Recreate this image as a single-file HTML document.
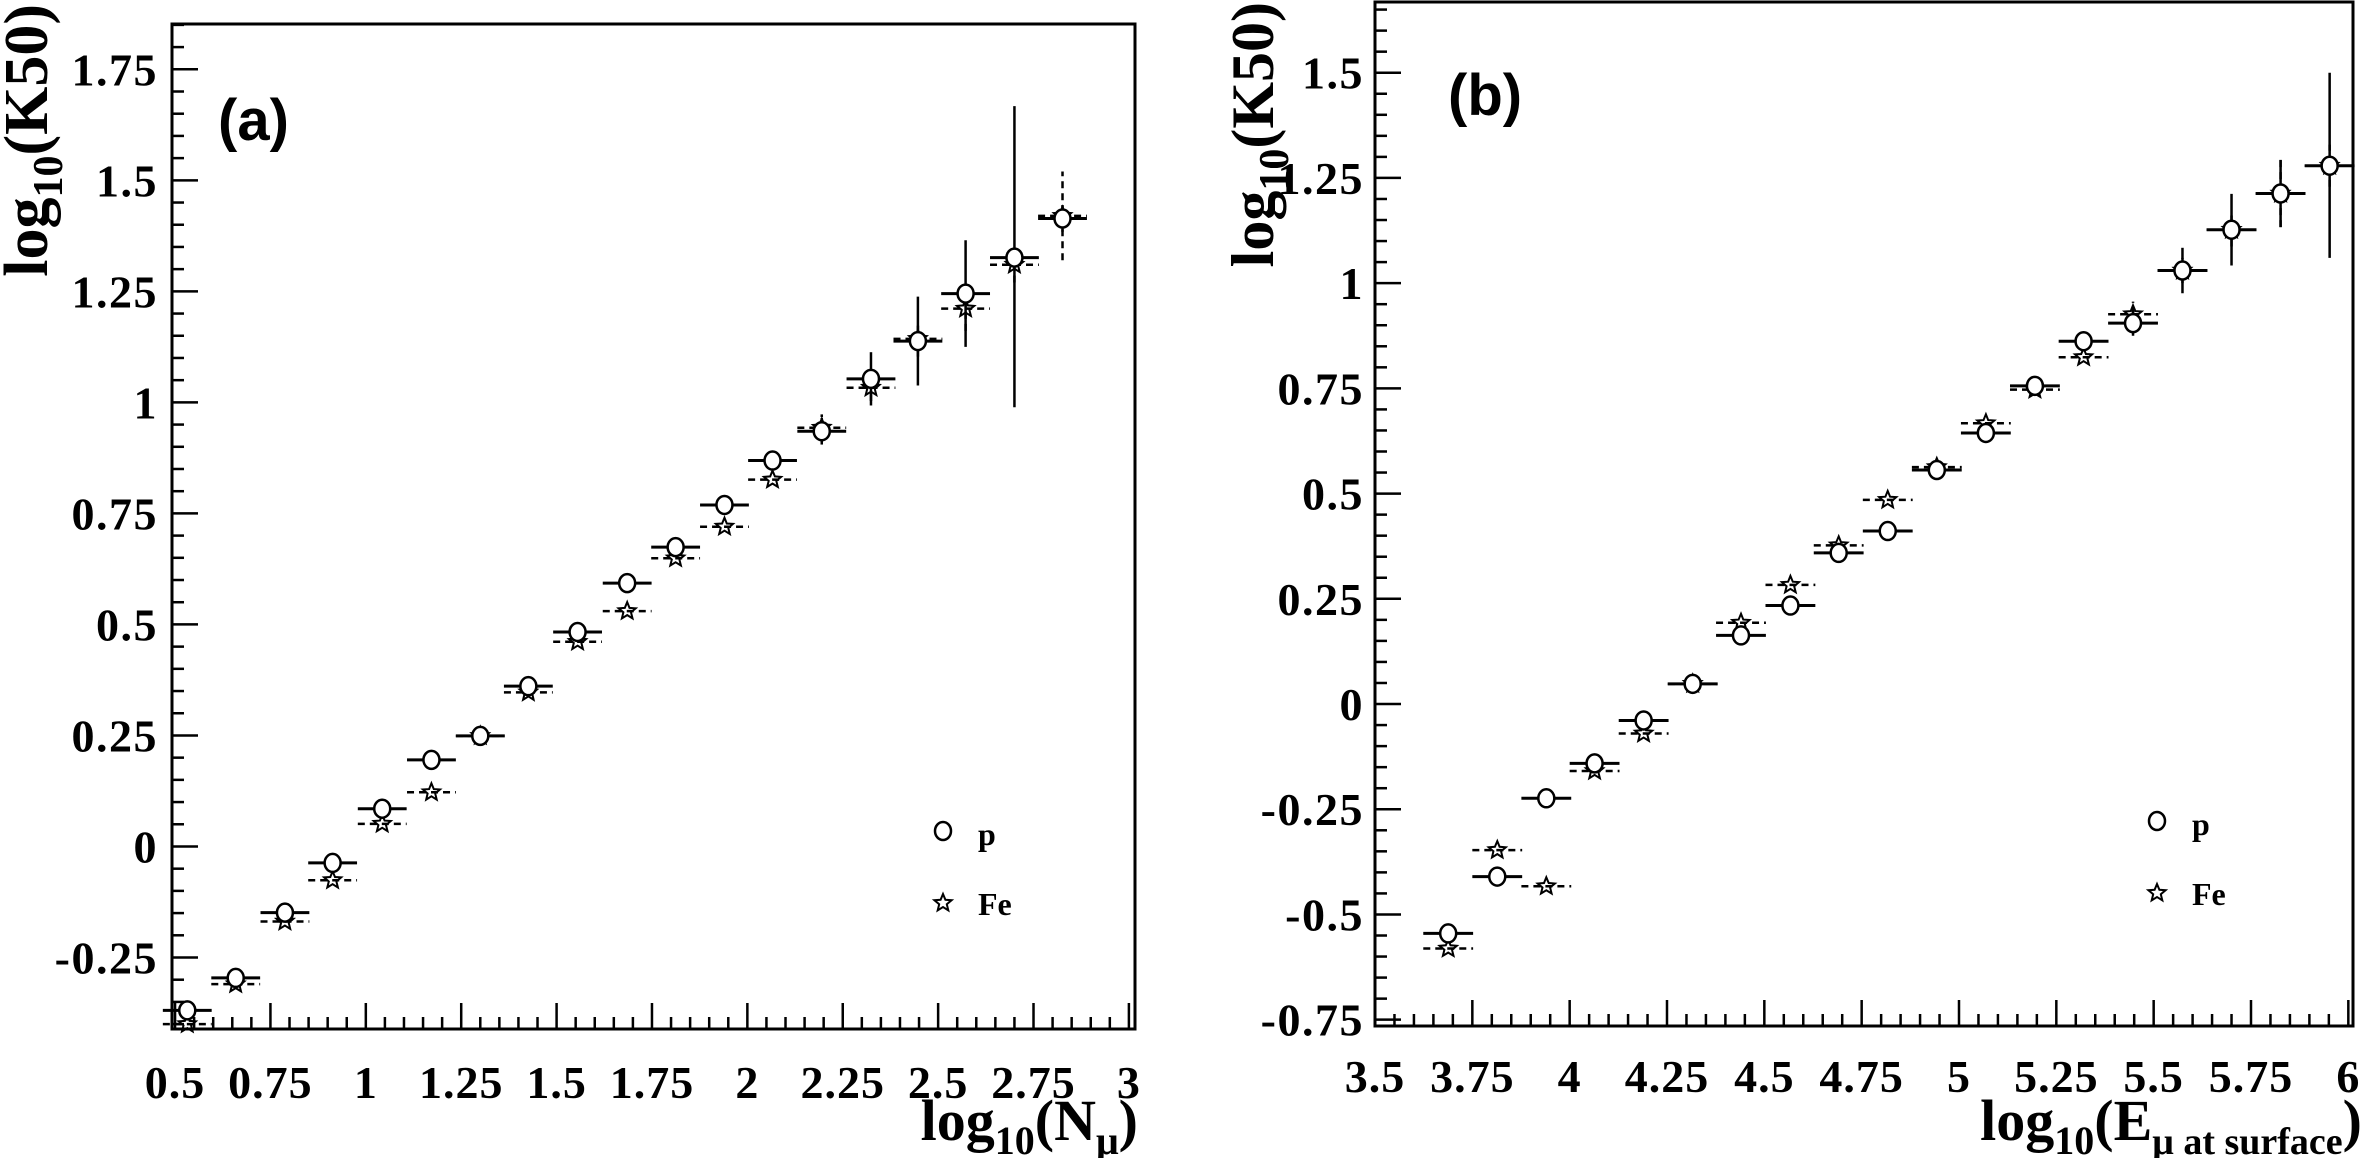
<!DOCTYPE html>
<html><head><meta charset="utf-8"><style>
html,body{margin:0;padding:0;background:#fff;}
svg{display:block;}
text{font-family:"Liberation Serif",serif;font-weight:bold;fill:#000;}
</style></head><body>
<svg id="s" width="2363" height="1158" xmlns="http://www.w3.org/2000/svg">
<text x="218" y="140" style="font-family:'Liberation Sans',sans-serif;font-size:58px">(a)</text>
<text x="1448" y="115" style="font-family:'Liberation Sans',sans-serif;font-size:58px">(b)</text>
<text transform="translate(47,4) rotate(-90)" text-anchor="end" style="font-size:62px">log<tspan dy="15" style="font-size:42px">10</tspan><tspan dy="-15">(K50)</tspan></text>
<text transform="translate(1273,2) rotate(-90)" text-anchor="end" style="font-size:60px">log<tspan dy="15" style="font-size:42px">10</tspan><tspan dy="-15">(K50)</tspan></text>
<text x="1138" y="1140" text-anchor="end" style="font-size:58px">log<tspan dy="14" style="font-size:40px">10</tspan><tspan dy="-14">(N</tspan><tspan dy="14" style="font-size:40px">μ</tspan><tspan dy="-14">)</tspan></text>
<text x="2362" y="1140" text-anchor="end" style="font-size:58px">log<tspan dy="14" style="font-size:40px">10</tspan><tspan dy="-14">(E</tspan><tspan dy="14" style="font-size:38px">μ at surface</tspan><tspan dy="-14">)</tspan></text>
</svg>
<script>
const S=document.getElementById('s');const NS='http://www.w3.org/2000/svg';
function el(t,a,txt){const e=document.createElementNS(NS,t);for(const k in a)e.setAttribute(k,a[k]);if(txt!=null)e.textContent=txt;S.appendChild(e);return e;}
function panel(P){
 const X=v=>P.L+(v-P.x0)*(P.R-P.L)/(P.x1-P.x0);
 const Y=v=>P.B-(v-P.y0)*(P.B-P.T)/(P.y1-P.y0);
 el('rect',{x:P.L,y:P.T,width:P.R-P.L,height:P.B-P.T,fill:'none',stroke:'#000','stroke-width':3});
 for(let i=Math.ceil(P.x0*20);i<=Math.floor(P.x1*20);i++){const v=i/20,x=X(v);const maj=(i%5==0);
  el('line',{x1:x,y1:P.B,x2:x,y2:P.B-(maj?26:12),stroke:'#000','stroke-width':2.5});}
 for(let i=Math.ceil(P.y0*20);i<=Math.floor(P.y1*20);i++){const v=i/20,y=Y(v);const maj=(i%5==0);
  el('line',{x1:P.L,y1:y,x2:P.L+(maj?26:12),y2:y,stroke:'#000','stroke-width':2.5});}
 P.xl.forEach(v=>el('text',{x:X(v),y:P.xlY,'text-anchor':'middle','font-size':46,'letter-spacing':1},String(v)));
 P.yl.forEach(v=>el('text',{x:P.ylX,y:Y(v)+16,'text-anchor':'end','font-size':46,'letter-spacing':1.5},String(v)));
 const hw=0.064;
 P.d.forEach(d=>{const x=X(d[0]);
  el('line',{x1:X(d[0]-hw),y1:Y(d[2]),x2:X(d[0]+hw),y2:Y(d[2]),stroke:'#000','stroke-width':2.5,'stroke-dasharray':'7,5'});
  if(d[4])el('line',{x1:x,y1:Y(d[2]-d[4]),x2:x,y2:Y(d[2]+d[4]),stroke:'#000','stroke-width':2.5,'stroke-dasharray':'7,5'});
  star(x,Y(d[2]));
  el('line',{x1:X(d[0]-hw),y1:Y(d[1]),x2:X(d[0]+hw),y2:Y(d[1]),stroke:'#000','stroke-width':3});
  if(d[3]){const e=d[3];const lo=Array.isArray(e)?e[0]:d[1]-e,hi=Array.isArray(e)?e[1]:d[1]+e;
   el('line',{x1:x,y1:Y(lo),x2:x,y2:Y(hi),stroke:'#000','stroke-width':2.5});}
  el('ellipse',{cx:x,cy:Y(d[1]),rx:8,ry:9,fill:'#fff',stroke:'#000','stroke-width':2.5});
 });
 el('ellipse',{cx:P.lg[0],cy:P.lg[1],rx:8,ry:9,fill:'#fff',stroke:'#000','stroke-width':2.5});
 star(P.lg[0],P.lg[1]+72);
 el('text',{x:P.lg[0]+35,y:P.lg[1]+14,'font-size':32},'p');
 el('text',{x:P.lg[0]+35,y:P.lg[1]+84,'font-size':32},'Fe');
}
function star(cx,cy){let p=[];for(let i=0;i<10;i++){const r=i%2?4:9,a=-Math.PI/2+i*Math.PI/5;p.push((cx+r*Math.cos(a)).toFixed(1)+','+(cy+r*Math.sin(a)).toFixed(1));}
 el('polygon',{points:p.join(' '),fill:'none',stroke:'#000','stroke-width':2});}
panel({L:172,R:1135,T:24,B:1029,x0:0.492,x1:3.016,y0:-0.411,y1:1.852,
 xl:[0.5,0.75,1,1.25,1.5,1.75,2,2.25,2.5,2.75,3],xlY:1098,
 yl:[-0.25,0,0.25,0.5,0.75,1,1.25,1.5,1.75],ylX:158,lg:[943,831],
 d:[[0.532,-0.369,-0.40],[0.659,-0.296,-0.31],[0.788,-0.149,-0.169],[0.913,-0.037,-0.076],[1.043,0.085,0.051],
 [1.172,0.195,0.122],[1.30,0.249,0.249],[1.426,0.361,0.347],[1.555,0.483,0.461],[1.685,0.593,0.530],
 [1.812,0.674,0.649],[1.94,0.769,0.720],[2.066,0.869,0.826],[2.195,0.935,0.943,0.03,0.03],[2.324,1.053,1.033,0.06,0.03],
 [2.447,1.138,1.143,0.10,0.04],[2.572,1.245,1.211,0.12,0.05],[2.70,1.326,1.31,[0.989,1.667],0.04],[2.826,1.414,1.42,0.03,0.1]]});
panel({L:1375,R:2353,T:2,B:1026,x0:3.5,x1:6.012,y0:-0.765,y1:1.668,
 xl:[3.5,3.75,4,4.25,4.5,4.75,5,5.25,5.5,5.75,6],xlY:1092,
 yl:[-0.75,-0.5,-0.25,0,0.25,0.5,0.75,1,1.25,1.5],ylX:1364,lg:[2157,821],
 d:[[3.688,-0.545,-0.581],[3.814,-0.41,-0.347],[3.94,-0.224,-0.433],[4.064,-0.141,-0.159],[4.19,-0.039,-0.07],
 [4.316,0.048,0.048],[4.44,0.163,0.193],[4.567,0.234,0.283],[4.691,0.359,0.377],[4.817,0.411,0.485],
 [4.943,0.556,0.563],[5.069,0.644,0.667],[5.195,0.756,0.747],[5.32,0.862,0.824],[5.447,0.905,0.926,0.03,0.03],
 [5.574,1.03,1.03,0.054,0.03],[5.70,1.127,1.127,0.085,0.04],[5.826,1.213,1.213,0.08,0.08],[5.952,1.279,1.279,[1.06,1.5],0.05]]});
</script>
</body></html>
